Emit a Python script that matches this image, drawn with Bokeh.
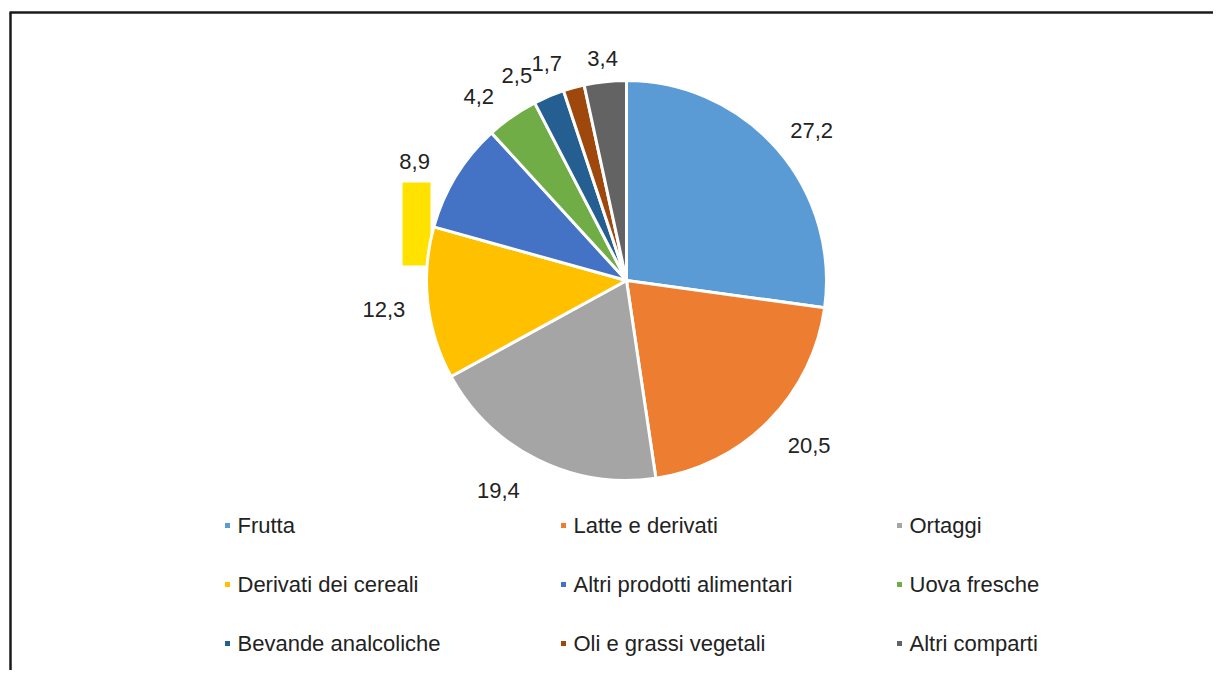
import math
from bokeh.plotting import figure
from bokeh.models import Range1d, ColumnDataSource
from bokeh.core.properties import value
from bokeh.embed import file_html
from bokeh.resources import INLINE

# ---- data ----
categories = ["Frutta", "Latte e derivati", "Ortaggi",
              "Derivati dei cereali", "Altri prodotti alimentari", "Uova fresche",
              "Bevande analcoliche", "Oli e grassi vegetali", "Altri comparti"]
values = [27.2, 20.5, 19.4, 12.3, 8.9, 4.2, 2.5, 1.7, 3.4]
colors = ["#5B9BD5", "#ED7D31", "#A5A5A5", "#FFC000", "#4472C4",
          "#70AD47", "#255E91", "#9E480E", "#636363"]

# ---- layout (screen pixel coordinates; data y = -screen y) ----
W, H = 1213, 670
CX, CY, R = 626, 280, 200
GAP = 15
FONT = "Liberation Sans"
FS = "22px"
TXT = "#222222"
# small nudges (px) imitating the original's label placement / collision avoidance
label_nudge = [(7, 5), (15, -1), (-25, 3), (-7, 2), (-14, 3),
               (-16, 5), (-21, 5), (-20, 2), (0, 1)]

p = figure(width=W, height=H, x_range=Range1d(0, W), y_range=Range1d(-H, 0),
           output_backend="svg", toolbar_location=None, min_border=0,
           x_axis_location=None, y_axis_location=None)
p.grid.visible = False
p.outline_line_color = None
p.background_fill_color = "white"
p.border_fill_color = "white"

# frame of the pasted figure
p.line([9, 1240], [-12, -12], line_color="#1a1a1a", line_width=2.5)
p.line([10, 10], [-12, -700], line_color="#1a1a1a", line_width=2.5)

# stray yellow block (artifact in the original)
p.quad(left=[402], right=[430], top=[-182], bottom=[-265], fill_color="#FFE200", line_color=None)

total = sum(values)
starts, ends, lx, ly, labels = [], [], [], [], []
cum = 0.0
for i, v in enumerate(values):
    a0 = math.pi / 2 - 2 * math.pi * cum / total
    cum += v
    a1 = math.pi / 2 - 2 * math.pi * cum / total
    starts.append(a1)
    ends.append(a0)
    mid = 2 * math.pi * (cum - v / 2) / total  # clockwise from top
    s, c = math.sin(mid), math.cos(mid)
    txt = f"{v:.1f}".replace(".", ",")
    w = 0.556 * 22 * (len(txt) - 1) + 0.278 * 22
    h = 16
    r = R + GAP + abs(s) * w / 2 + abs(c) * h / 2
    px = CX + r * s + label_nudge[i][0]
    py = CY - r * c + label_nudge[i][1]
    lx.append(px)
    ly.append(-py)
    labels.append(txt)

src = ColumnDataSource(dict(start=starts, end=ends, color=colors, cat=categories))
p.wedge(x=CX, y=-CY, radius=R, start_angle="start", end_angle="end",
        fill_color="color", line_color="white", line_width=3, source=src)

p.text(x=lx, y=ly, text=labels, text_font=value(FONT), text_font_size=FS,
       text_color=TXT, text_align="center", text_baseline="middle")

# legend: 3 columns x 3 rows
col_x = [227, 563, 899]
row_mid = [525, 584, 643]
mx, my, tx, ty = [], [], [], []
for i, cat in enumerate(categories):
    r_, cidx = divmod(i, 3)
    mx.append(col_x[cidx])
    my.append(-row_mid[r_])
    tx.append(col_x[cidx] + 10)
    ty.append(-row_mid[r_])
p.scatter(x=mx, y=my, marker="square", size=5, fill_color=colors, line_color=None)
p.text(x=tx, y=ty, text=categories, text_font=value(FONT), text_font_size=FS,
       text_color=TXT, text_align="left", text_baseline="middle")

open("out.html", "w").write(file_html(p, INLINE))
